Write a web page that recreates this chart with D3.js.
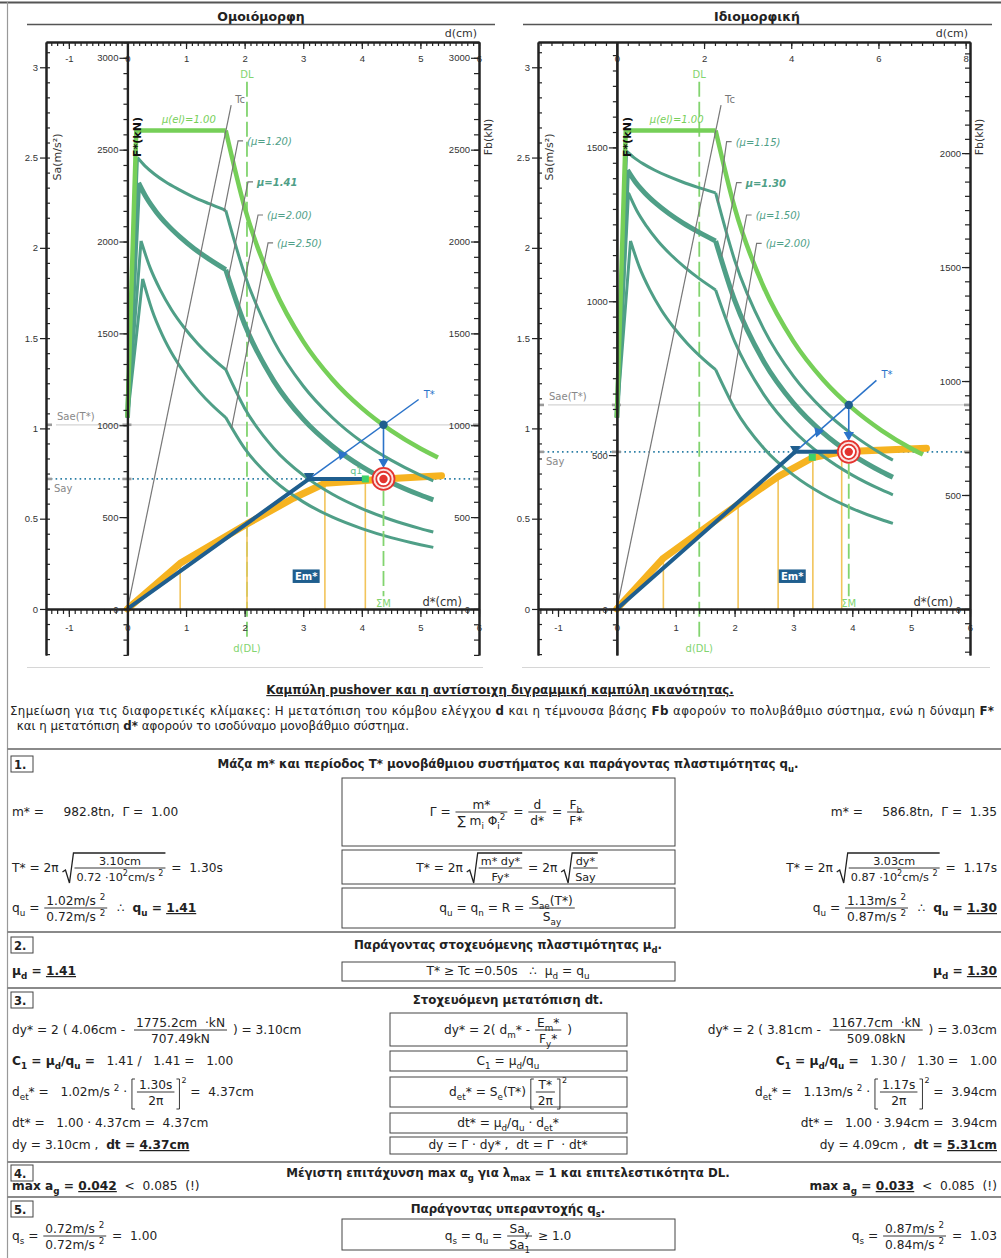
<!DOCTYPE html>
<html lang="el"><head><meta charset="utf-8"><title>Pushover – ικανότητα και απαίτηση</title>
<script src="https://cdn.jsdelivr.net/npm/d3@7/dist/d3.min.js"></script>
<style>
html,body{margin:0;padding:0;background:#fff}
svg{display:block;font-family:"DejaVu Sans",Verdana,sans-serif}
text{white-space:pre}
</style></head><body>
<svg id="sheet" width="1001" height="1258" viewBox="0 0 1001 1258"></svg>
<script>
// ----------------------------------------------------------------------------
// Data: spectra and capacity curves in ADRS form, x = d* (cm), y = Sa (m/s²)
// index 0 = Ομοιόμορφη (uniform load), index 1 = Ιδιομορφική (modal load)
// ----------------------------------------------------------------------------
const panelTitles = ['Ομοιόμορφη', 'Ιδιομορφική'];
const massStar  = [982.8, 586.8];    // m* (tn)
const gammaVals = [1.00, 1.35];      // Γ
const dyStar    = [3.10, 3.03];      // dy* (cm)
const saY       = [0.72, 0.87];      // Say (m/s²)
const periodT   = [1.30, 1.17];      // T* (s)
const saE       = [1.02, 1.13];      // Sae(T*) (m/s²)
const qU        = [1.41, 1.30];
const dmStar    = [4.06, 3.81];      // dm* (cm)
const emStar    = [1775.2, 1167.7];  // Em* (cm·kN)
const fyStar    = [707.49, 509.08];  // Fy* (kN)
const dtStar    = [4.37, 3.94];      // dt* (cm)
const dyMdof    = [3.10, 4.09];      // dy (cm)
const dtMdof    = [4.37, 5.31];      // dt (cm)
const agMax     = [0.042, 0.033];
const sa1       = [0.72, 0.84];
const sa1Disp   = [4.06, 3.32];      // d* where Sa1 is read on the capacity curve
const qS        = [1.00, 1.03];
const dDL       = [2.04, 1.40];      // d* at the DL limit
const tcPeriod  = 0.50;
const dCorner   = 1.678;             // d* of the spectrum corner at Tc

const saTicks         = [0, 0.5, 1, 1.5, 2, 2.5, 3];
const dStarTicks      = [-1, 0, 1, 2, 3, 4, 5, 6];
const uniTopTicks     = [-1, 0, 1, 2, 3, 4, 5, 6];
const modalTopTicks   = [0, 2, 4, 6, 8];
const uniForceTicks   = [0, 500, 1000, 1500, 2000, 2500, 3000];
const modalForceTicks = [0, 500, 1000, 1500];
const modalBaseTicks  = [0, 500, 1000, 1500, 2000];

// elastic demand spectrum μ(el)=1.00
const uniElastic = [[0,1.06],[0.151,2.65],[1.678,2.65],[2.0,2.224],[2.5,1.779],[3.0,1.482],[3.5,1.271],[4.0,1.112],[4.5,0.988],[5.0,0.889],[5.3,0.839]];
const modalElastic = [[0,1.06],[0.151,2.65],[1.678,2.65],[2.0,2.224],[2.5,1.779],[3.0,1.482],[3.5,1.271],[4.0,1.112],[4.5,0.988],[5.0,0.889],[5.2,0.855]];

// inelastic demand spectra, uniform panel
const uniMu120 = [[0,1.06],[0.171,2.500],[0.298,2.454],[0.458,2.409],[0.647,2.366],[0.865,2.325],[1.111,2.284],[1.382,2.246],[1.678,2.208],[2.0,1.853],[2.5,1.482],[3.0,1.235],[3.5,1.059],[4.0,0.926],[4.5,0.824],[5.0,0.741],[5.22,0.710]];
const uniMu141 = [[0,1.06],[0.190,2.360],[0.325,2.277],[0.491,2.199],[0.683,2.127],[0.901,2.059],[1.140,1.995],[1.400,1.936],[1.678,1.879],[2.0,1.577],[2.5,1.262],[3.0,1.051],[3.5,0.901],[4.0,0.788],[4.5,0.701],[5.0,0.631],[5.22,0.604]];
const uniMu200 = [[0,1.06],[0.232,2.038],[0.383,1.893],[0.560,1.767],[0.755,1.656],[0.967,1.559],[1.193,1.472],[1.431,1.395],[1.678,1.325],[2.0,1.112],[2.5,0.889],[3.0,0.741],[3.5,0.635],[4.0,0.556],[4.5,0.494],[5.0,0.445],[5.22,0.426]];
const uniMu250 = [[0,1.06],[0.260,1.828],[0.419,1.656],[0.600,1.514],[0.795,1.395],[1.002,1.293],[1.220,1.205],[1.446,1.128],[1.678,1.060],[2.0,0.889],[2.5,0.712],[3.0,0.593],[3.5,0.508],[4.0,0.445],[4.5,0.395],[5.0,0.356],[5.22,0.341]];

// inelastic demand spectra, modal panel
const modalMu115 = [[0,1.06],[0.166,2.536],[0.291,2.500],[0.449,2.465],[0.637,2.431],[0.855,2.398],[1.103,2.366],[1.377,2.335],[1.678,2.304],[2.0,1.933],[2.5,1.547],[3.0,1.289],[3.5,1.105],[4.0,0.967],[4.5,0.859],[4.69,0.824]];
const modalMu130 = [[0,1.06],[0.180,2.431],[0.311,2.366],[0.475,2.304],[0.665,2.246],[0.883,2.190],[1.126,2.137],[1.391,2.087],[1.678,2.038],[2.0,1.710],[2.5,1.368],[3.0,1.140],[3.5,0.977],[4.0,0.855],[4.5,0.760],[4.69,0.729]];
const modalMu150 = [[0,1.06],[0.197,2.304],[0.335,2.208],[0.504,2.120],[0.697,2.038],[0.913,1.963],[1.151,1.893],[1.406,1.828],[1.678,1.767],[2.0,1.482],[2.5,1.186],[3.0,0.988],[3.5,0.847],[4.0,0.741],[4.5,0.659],[4.69,0.632]];
const modalMu200 = [[0,1.06],[0.232,2.038],[0.383,1.893],[0.560,1.767],[0.755,1.656],[0.967,1.559],[1.193,1.472],[1.431,1.395],[1.678,1.325],[2.0,1.112],[2.5,0.889],[3.0,0.741],[3.5,0.635],[4.0,0.556],[4.5,0.494],[4.69,0.474]];

const uniMuLabels   = ['(μ=1.20)', 'μ=1.41', '(μ=2.00)', '(μ=2.50)'];
const modalMuLabels = ['(μ=1.15)', 'μ=1.30', '(μ=1.50)', '(μ=2.00)'];
// label leaders: from the curve to the label
const uniLeaders   = [[[1.65,2.20],[1.888,2.592]], [[1.72,1.833],[2.058,2.365]], [[1.69,1.324],[2.229,2.182]], [[1.776,1.00],[2.40,2.027]]];
const modalLeaders = [[[1.72,2.248],[1.865,2.588]], [[1.78,1.951],[2.035,2.361]], [[1.865,1.61],[2.205,2.182]], [[1.92,1.157],[2.375,2.025]]];
const elasticLabelAt = [[0.59,2.69],[0.56,2.69]];

// pushover capacity curves (orange) and the analysis steps marked on them
const uniPushover   = [[0,0],[0.90,0.253],[2.04,0.471],[2.83,0.613],[3.37,0.696],[4.06,0.712],[4.37,0.720],[5.36,0.738]];
const modalPushover = [[0,0],[0.79,0.281],[2.06,0.580],[2.74,0.733],[3.33,0.839],[3.82,0.870],[5.26,0.890]];
const uniSteps   = [[0.90,0.253],[2.04,0.471],[3.37,0.696],[4.06,0.712]];
const modalSteps = [[0.79,0.281],[2.06,0.580],[2.74,0.733],[3.33,0.839],[3.82,0.870]];

// T* radial line (drawn from the yield point outwards) and its arrow mark
const tStarEnd  = [[4.97,1.16],[4.41,1.266]];
const tStarMark = [[3.66,0.854],[3.42,0.981]];
const tcLine    = [[0,0],[1.77,2.79]];

// ----------------------------------------------------------------------------
const svg = d3.select('#sheet');
const INK = '#222';
const COL = {el:'#76cf58', inel:'#4f9f87', lead:'#777', dl:'#82d46f', orange:'#f6b320', step:'#f2c45a',
             bil:'#1f5e8e', tline:'#2b73c9', say:'#2c7fa6', sae:'#d4d4d4', red:'#e3342f', sq:'#3ed16a'};
const saDomain = [-0.255, 3.14];

const layout = [
  {px:[46,479], dLo:-1.39, titleX:261, rule:[27,495], sep:[27,483], topTicks:uniTopTicks, topMinor:0.1,
   fTicks:uniForceTicks, fMinor:1000/12, fbTicks:uniForceTicks, fbMinor:1000/12},
  {px:[538,970], dLo:-1.34, titleX:757, rule:[523,992], sep:[522,990], topTicks:modalTopTicks, topMinor:0.25,
   fTicks:modalForceTicks, fMinor:50, fbTicks:modalBaseTicks, fbMinor:62.5}
];
const elasticSeries   = [uniElastic, modalElastic];
const inelasticSeries = [[uniMu120, uniMu141, uniMu200, uniMu250], [modalMu115, modalMu130, modalMu150, modalMu200]];
const muLabelSeries   = [uniMuLabels, modalMuLabels];
const leaderSeries    = [uniLeaders, modalLeaders];
const pushoverSeries  = [uniPushover, modalPushover];
const stepSeries      = [uniSteps, modalSteps];

function tickRange(lo, hi, st) {
  const a = [];
  for (let k = Math.ceil(lo / st - 1e-9); k * st <= hi + 1e-9; k++) a.push(+(k * st).toFixed(6));
  return a;
}

function drawPanel(i) {
  const L = layout[i];
  const g = svg.append('g');
  const [X0, X1] = L.px;
  const G = gammaVals[i], M = massStar[i];
  const x    = d3.scaleLinear().domain([L.dLo, 6]).range(L.px);
  const y    = d3.scaleLinear().domain(saDomain).range([655, 42]);
  const xTop = d3.scaleLinear().domain([L.dLo * G, 6 * G]).range(L.px);
  const yF   = d3.scaleLinear().domain(saDomain.map(v => v * M)).range([655, 42]);
  const yFb  = d3.scaleLinear().domain(saDomain.map(v => v * M * G)).range([655, 42]);
  const XF = x(0);
  const line = d3.line().x(d => x(d[0])).y(d => y(d[1]));
  const smooth = d3.line().x(d => x(d[0])).y(d => y(d[1])).curve(d3.curveMonotoneX);

  // title
  g.append('text').attr('x', L.titleX).attr('y', 21).attr('text-anchor', 'middle')
    .style('font-size', '12.5px').style('font-weight', 'bold').attr('fill', INK).text(panelTitles[i]);
  g.append('line').attr('x1', L.rule[0]).attr('x2', L.rule[1]).attr('y1', 24.5).attr('y2', 24.5)
    .attr('stroke', '#555').attr('stroke-width', 1.5);
  g.append('line').attr('x1', L.sep[0]).attr('x2', L.sep[1]).attr('y1', 667.5).attr('y2', 667.5)
    .attr('stroke', '#d6d6d6').attr('stroke-width', 1.2);

  // Sae(T*) and Say reference levels
  g.append('line').attr('x1', X0 + 10).attr('x2', X1).attr('y1', y(saE[i])).attr('y2', y(saE[i]))
    .attr('stroke', COL.sae).attr('stroke-width', 1.3);
  g.append('line').attr('x1', X0).attr('x2', X1).attr('y1', y(saY[i])).attr('y2', y(saY[i]))
    .attr('stroke', COL.say).attr('stroke-width', 1.7).attr('stroke-dasharray', '1.6,3.2');
  [saE[i], saY[i]].forEach(v => {
    [[X0, X0 + 6], [XF - 5, XF + 4], [X1 - 6, X1]].forEach(([a, b]) =>
      g.append('line').attr('x1', a).attr('x2', b).attr('y1', y(v)).attr('y2', y(v))
        .attr('stroke', '#9a9a9a').attr('stroke-width', 2.6));
  });
  g.append('text').attr('x', X0 + 11).attr('y', y(saE[i]) - 5).style('font-size', '10px').attr('fill', '#888').text('Sae(T*)');
  g.append('text').attr('x', X0 + 8).attr('y', y(saY[i]) + 13).style('font-size', '10px').attr('fill', '#888').text('Say');

  // DL limit
  g.append('line').attr('x1', x(dDL[i])).attr('x2', x(dDL[i])).attr('y1', y(2.92)).attr('y2', y(-0.155))
    .attr('stroke', COL.dl).attr('stroke-width', 1.8).attr('stroke-dasharray', '15,5');
  g.append('text').attr('x', x(dDL[i])).attr('y', y(2.92) - 4).attr('text-anchor', 'middle')
    .style('font-size', '10px').attr('fill', COL.dl).text('DL');
  g.append('text').attr('x', x(dDL[i])).attr('y', y(-0.155) + 15).attr('text-anchor', 'middle')
    .style('font-size', '10px').attr('fill', COL.dl).text('d(DL)');

  // pushover steps and capacity curve
  stepSeries[i].forEach(p => g.append('line').attr('x1', x(p[0])).attr('x2', x(p[0])).attr('y1', y(0)).attr('y2', y(p[1]))
    .attr('stroke', COL.step).attr('stroke-width', 1.6));
  g.append('path').attr('d', line(pushoverSeries[i])).attr('fill', 'none').attr('stroke', COL.orange)
    .attr('stroke-width', 7).attr('stroke-linejoin', 'round').attr('stroke-linecap', 'round');

  // demand spectra: straight rise to the peak, then smooth branches split at the Tc corner
  function spectrumPath(pts) {
    const k = pts.findIndex(p => Math.abs(p[0] - dCorner) < 1e-6);
    return line(pts.slice(0, 2)) + smooth(pts.slice(1, k + 1)) + smooth(pts.slice(k));
  }
  inelasticSeries[i].forEach((pts, j) => {
    g.append('path').attr('d', spectrumPath(pts)).attr('fill', 'none').attr('stroke', COL.inel)
      .attr('stroke-width', j === 1 ? 5 : 3).attr('stroke-linejoin', 'round');
  });
  const el = elasticSeries[i];
  g.append('path').attr('d', line(el.slice(0, 3)) + smooth(el.slice(2))).attr('fill', 'none')
    .attr('stroke', COL.el).attr('stroke-width', 4.5).attr('stroke-linejoin', 'round');

  // Tc period line and leaders
  g.append('path').attr('d', line(tcLine)).attr('stroke', COL.lead).attr('stroke-width', 1.2).attr('fill', 'none');
  g.append('text').attr('x', x(tcLine[1][0]) + 4).attr('y', y(tcLine[1][1]) - 2).style('font-size', '10px')
    .attr('fill', '#777').text('Tc');
  leaderSeries[i].forEach((ld, j) => {
    const [a, b] = ld;
    g.append('path').attr('d', `M${x(a[0])},${y(a[1])}L${x(b[0])},${y(b[1])}h5`).attr('fill', 'none')
      .attr('stroke', COL.lead).attr('stroke-width', 1.2);
    g.append('text').attr('x', x(b[0]) + 9).attr('y', y(b[1]) + 4).style('font-size', '10px')
      .style('font-style', 'italic').style('font-weight', j === 1 ? 'bold' : 'normal')
      .attr('fill', COL.inel).text(muLabelSeries[i][j]);
  });
  g.append('text').attr('x', x(elasticLabelAt[i][0])).attr('y', y(elasticLabelAt[i][1])).style('font-size', '10px')
    .style('font-style', 'italic').attr('fill', COL.el).text('μ(el)=1.00');

  // bilinear idealisation
  const bilinear = [[0, 0], [dyStar[i], saY[i]], [dmStar[i], saY[i]]];
  g.append('path').attr('d', line(bilinear)).attr('fill', 'none').attr('stroke', COL.bil)
    .attr('stroke-width', 4).attr('stroke-linejoin', 'round');

  // T* line, demand point and arrows
  const yieldPt = [dyStar[i], saY[i]];
  g.append('path').attr('d', line([yieldPt, tStarEnd[i]])).attr('stroke', COL.tline).attr('stroke-width', 1.5).attr('fill', 'none');
  g.append('text').attr('x', x(tStarEnd[i][0]) + 5).attr('y', y(tStarEnd[i][1]) - 2).style('font-size', '10px')
    .attr('fill', COL.tline).text('T*');
  const tri = d3.symbol(d3.symbolTriangle, 46);
  g.append('path').attr('d', tri()).attr('transform', `translate(${x(tStarMark[i][0])},${y(tStarMark[i][1])}) rotate(200)`)
    .attr('fill', COL.tline);
  g.append('path').attr('d', tri()).attr('transform', `translate(${x(yieldPt[0])},${y(yieldPt[1]) - 3}) rotate(180)`)
    .attr('fill', COL.bil);
  const tx = x(dtStar[i]);
  g.append('line').attr('x1', tx).attr('x2', tx).attr('y1', y(saE[i])).attr('y2', y(saY[i]) - 17)
    .attr('stroke', COL.tline).attr('stroke-width', 1.6);
  g.append('path').attr('d', tri()).attr('transform', `translate(${tx},${y(saY[i]) - 17}) rotate(180)`).attr('fill', COL.tline);
  g.append('circle').attr('cx', tx).attr('cy', y(saE[i])).attr('r', 4.2).attr('fill', COL.bil);

  // target displacement ΣΜ
  g.append('line').attr('x1', tx).attr('x2', tx).attr('y1', y(saY[i]) + 12).attr('y2', y(0.07))
    .attr('stroke', COL.dl).attr('stroke-width', 1.8).attr('stroke-dasharray', '15,5');
  g.append('text').attr('x', tx).attr('y', y(0) - 2).attr('text-anchor', 'middle').style('font-size', '10px')
    .attr('fill', COL.dl).text('ΣΜ');
  g.append('rect').attr('x', x(sa1Disp[i]) - 3.5).attr('y', y(sa1[i]) - 3.5).attr('width', 7).attr('height', 7).attr('fill', COL.sq);
  if (i === 0) g.append('text').attr('x', x(sa1Disp[i]) - 15).attr('y', y(sa1[i]) - 5).style('font-size', '9.5px')
    .attr('fill', '#5cc28a').text('q1');
  const ty = y(saY[i]);
  g.append('circle').attr('cx', tx).attr('cy', ty).attr('r', 11).attr('fill', '#fbe0de').attr('stroke', COL.red).attr('stroke-width', 1.8);
  g.append('circle').attr('cx', tx).attr('cy', ty).attr('r', 7.2).attr('fill', '#fff').attr('stroke', COL.red).attr('stroke-width', 1.8);
  g.append('circle').attr('cx', tx).attr('cy', ty).attr('r', 4.2).attr('fill', COL.red);

  // Em* tag
  const ex = x(dyStar[i] - 0.05), ey = y(0.18);
  g.append('rect').attr('x', ex - 13.5).attr('y', ey - 7).attr('width', 27).attr('height', 13.5).attr('fill', COL.bil);
  g.append('text').attr('x', ex).attr('y', ey + 4).attr('text-anchor', 'middle').style('font-size', '10px')
    .style('font-weight', 'bold').attr('fill', '#fff').text('Em*');

  // axes
  const style = (sel, w) => {
    sel.selectAll('text').style('font-size', '9.5px').attr('fill', '#333');
    sel.selectAll('.tick line').attr('stroke', INK).attr('stroke-width', 1.2);
    sel.select('.domain').attr('stroke', INK).attr('stroke-width', w);
  };
  const fmt = d => String(d);
  // top: d (cm) of the MDOF system
  g.append('g').attr('transform', 'translate(0,42)')
    .call(d3.axisBottom(xTop).tickValues(tickRange(L.dLo * G, 6 * G, L.topMinor)).tickSize(4).tickSizeOuter(0).tickFormat(''))
    .call(s => style(s, 2));
  g.append('g').attr('transform', 'translate(0,42)')
    .call(d3.axisBottom(xTop).tickValues(L.topTicks).tickSize(7).tickPadding(6).tickSizeOuter(0).tickFormat(fmt))
    .call(s => style(s, 2));
  // bottom: d* (cm)
  g.append('g').attr('transform', `translate(0,${y(0)})`)
    .call(d3.axisBottom(x).tickValues(tickRange(L.dLo, 6, 0.1)).tickSize(5).tickSizeOuter(0).tickFormat(''))
    .call(s => style(s, 2));
  g.append('g').attr('transform', `translate(0,${y(0)})`)
    .call(d3.axisBottom(x).tickValues(dStarTicks).tickSize(8).tickPadding(7).tickSizeOuter(0).tickFormat(fmt))
    .call(s => style(s, 2));
  // Sa
  g.append('g').attr('transform', `translate(${X0},0)`)
    .call(d3.axisLeft(y).tickValues(tickRange(saDomain[0], saDomain[1], 1 / 12)).tickSize(-4).tickSizeOuter(0).tickFormat(''))
    .call(s => style(s, 2));
  g.append('g').attr('transform', `translate(${X0},0)`)
    .call(d3.axisLeft(y).tickValues(saTicks).tickSize(6).tickPadding(2).tickSizeOuter(0).tickFormat(fmt))
    .call(s => style(s, 2));
  // F* (SDOF)
  g.append('g').attr('transform', `translate(${XF},0)`)
    .call(d3.axisLeft(yF).tickValues(tickRange(yF.domain()[0], yF.domain()[1], L.fMinor)).tickSize(4).tickSizeOuter(0).tickFormat(''))
    .call(s => style(s, 2.2));
  g.append('g').attr('transform', `translate(${XF},0)`)
    .call(d3.axisLeft(yF).tickValues(L.fTicks).tickSize(8).tickPadding(1).tickSizeOuter(0).tickFormat(fmt))
    .call(s => style(s, 2.2));
  // Fb (MDOF)
  g.append('g').attr('transform', `translate(${X1},0)`)
    .call(d3.axisLeft(yFb).tickValues(tickRange(yFb.domain()[0], yFb.domain()[1], L.fbMinor)).tickSize(5).tickSizeOuter(0).tickFormat(''))
    .call(s => style(s, 2));
  g.append('g').attr('transform', `translate(${X1},0)`)
    .call(d3.axisLeft(yFb).tickValues(L.fbTicks).tickSize(8).tickPadding(1).tickSizeOuter(0).tickFormat(fmt))
    .call(s => style(s, 2));

  // axis titles
  const rot = (tx0, ty0, txt, bold) => g.append('text').attr('transform', `translate(${tx0},${ty0}) rotate(-90)`)
    .attr('text-anchor', 'middle').style('font-size', '11px').style('font-weight', bold ? 'bold' : 'normal')
    .attr('fill', bold ? '#111' : '#333').text(txt);
  rot(X0 + 15, 157, 'Sa(m/s²)', false);
  rot(XF + 14, 137, 'F*(kN)', true);
  rot(X1 + 13, 137, 'Fb(kN)', false);
  g.append('text').attr('x', X1 - 2).attr('y', 37).attr('text-anchor', 'end').style('font-size', '11px').attr('fill', '#333').text('d(cm)');
  g.append('text').attr('x', X1 - 17).attr('y', 606).attr('text-anchor', 'end').style('font-size', '11.5px').attr('fill', '#333').text('d*(cm)');
}

// ----------------------------------------------------------------------------
// text section helpers: _{..} subscript, ^{..} superscript, «..» bold, ‹..› bold underlined
// ----------------------------------------------------------------------------
const FS = 12.2;
function parse(str) {
  const out = []; let b = false, u = false, mode = null, buf = '';
  const flush = () => { if (buf) out.push({t: buf, b, u, sub: mode === 'sub', sup: mode === 'sup'}); buf = ''; };
  for (let k = 0; k < str.length; k++) {
    const c = str[k];
    if ((c === '_' || c === '^') && str[k + 1] === '{') { flush(); mode = c === '_' ? 'sub' : 'sup'; k++; continue; }
    if (c === '}' && mode) { flush(); mode = null; continue; }
    if (c === '«') { flush(); b = true; continue; }
    if (c === '»') { flush(); b = false; continue; }
    if (c === '‹') { flush(); b = true; u = true; continue; }
    if (c === '›') { flush(); b = false; u = false; continue; }
    buf += c;
  }
  flush();
  return out;
}
function runEl(g, str, x, y, size) {
  const t = g.append('text').attr('x', x).attr('y', y).style('font-size', size + 'px').attr('fill', INK);
  let shift = 0;
  parse(str).forEach(s => {
    const ts = t.append('tspan').text(s.t);
    const want = s.sub ? size * 0.3 : s.sup ? -size * 0.42 : 0;
    if (want !== shift) { ts.attr('dy', want - shift); shift = want; }
    if (s.sub || s.sup) ts.style('font-size', (size * 0.72) + 'px');
    if (s.b) ts.style('font-weight', 'bold');
    if (s.u) ts.style('text-decoration', 'underline');
  });
  return t;
}
// items: strings, {f:[num,den]} fraction, {r:[num,den]} root of fraction, {k:[num,den]} bracketed fraction squared
function formula(x, y, items, anchor = 'start', size = FS) {
  const grp = svg.append('g');
  let cx = 0;
  items.forEach(it => {
    if (typeof it === 'string') {
      const t = runEl(grp, it, cx, 0, size);
      cx += t.node().getComputedTextLength();
      return;
    }
    const kind = it.f ? 'f' : it.r ? 'r' : 'k';
    const [n, d] = it[kind];
    const fsz = kind === 'r' ? size * 0.92 : size;
    const x0 = cx + (kind === 'r' ? 12 : kind === 'k' ? 6 : 1);
    const tn = runEl(grp, n, 0, -7, fsz), td = runEl(grp, d, 0, 9, fsz);
    const wn = tn.node().getComputedTextLength(), wd = td.node().getComputedTextLength();
    const w = Math.max(wn, wd) + 4;
    tn.attr('x', x0 + (w - wn) / 2); td.attr('x', x0 + (w - wd) / 2);
    grp.append('line').attr('x1', x0).attr('x2', x0 + w).attr('y1', -4).attr('y2', -4).attr('stroke', INK).attr('stroke-width', 0.9);
    if (kind === 'r') {
      grp.append('path').attr('d', `M${x0 - 12},0 l3,-2 l4,13 l4,-30 H${x0 + w}`).attr('fill', 'none')
        .attr('stroke', INK).attr('stroke-width', 1.3);
    }
    if (kind === 'k') {
      grp.append('path').attr('d', `M${x0 - 2},-17 h-3 v30 h3 M${x0 + w + 2},-17 h3 v30 h-3`).attr('fill', 'none')
        .attr('stroke', INK).attr('stroke-width', 0.9);
      runEl(grp, '2', x0 + w + 7, -13, size * 0.65);
    }
    cx = x0 + w + (kind === 'k' ? 12 : 2);
  });
  const dx = anchor === 'end' ? x - cx : anchor === 'middle' ? x - cx / 2 : x;
  grp.attr('transform', `translate(${dx},${y})`);
  return grp;
}
function frame(x, y, w, h) {
  svg.append('rect').attr('x', x).attr('y', y).attr('width', w).attr('height', h)
    .attr('fill', 'none').attr('stroke', '#444').attr('stroke-width', 1);
}
function section(num, yRule, yBox, header) {
  svg.append('line').attr('x1', 7).attr('x2', 1001).attr('y1', yRule).attr('y2', yRule).attr('stroke', '#8a8a8a').attr('stroke-width', 1.8);
  frame(11, yBox, 22, 16);
  formula(14, yBox + 12.5, ['«' + num + '»'], 'start', 11.5);
  formula(508, yBox + 12, ['«' + header + '»'], 'middle', 11.8);
}

// ----------------------------------------------------------------------------
// page frame
svg.append('line').attr('x1', 0).attr('x2', 1001).attr('y1', 2.5).attr('y2', 2.5).attr('stroke', '#555').attr('stroke-width', 2.2);
svg.append('line').attr('x1', 7.5).attr('x2', 7.5).attr('y1', 2).attr('y2', 1258).attr('stroke', '#999').attr('stroke-width', 1.2);

drawPanel(0);
drawPanel(1);

// caption and note
const f2 = v => v.toFixed(2);
formula(500, 694, ['‹Καμπύλη pushover και η αντίστοιχη διγραμμική καμπύλη ικανότητας.›'], 'middle', 11.8);
const note = formula(10, 715, ['Σημείωση για τις διαφορετικές κλίμακες: Η μετατόπιση του κόμβου ελέγχου «d» και η τέμνουσα βάσης «Fb» αφορούν το πολυβάθμιο σύστημα, ενώ η δύναμη «F*»'], 'start', 11.8);
note.select('text').attr('textLength', 984).attr('lengthAdjust', 'spacing');
formula(13, 730, [' και η μετατόπιση «d*» αφορούν το ισοδύναμο μονοβάθμιο σύστημα.'], 'start', 11.8);

// 1. SDOF mass, period, ductility factor
section('1.', 749, 756, 'Μάζα m* και περίοδος T* μονοβάθμιου συστήματος και παράγοντας πλαστιμότητας q_{u}.');
frame(342, 778, 333, 68);
frame(342, 850, 333, 34);
frame(342, 888, 333, 40);
formula(508, 816, ['Γ = ', {f: ['m*', '∑ m_{i} Φ_{i}^{2}']}, ' = ', {f: ['d', 'd*']}, ' = ', {f: ['F_{b}', 'F*']}], 'middle');
formula(508, 872, ['T* = 2π ', {r: ['m* dy*', 'Fy*']}, ' = 2π ', {r: ['dy*', 'Say']}], 'middle');
formula(508, 912, ['q_{u} = q_{n} = R = ', {f: ['S_{ae}(T*)', 'S_{ay}']}], 'middle');
[0, 1].forEach(i => {
  const X = i ? 997 : 12, A = i ? 'end' : 'start';
  formula(X, 816, [`m* =     ${massStar[i].toFixed(1)}tn,  Γ =  ${f2(gammaVals[i])}`], A);
  formula(X, 872, ['T* = 2π ', {r: [`${f2(dyStar[i])}cm`, `${f2(saY[i])} ·10^{2}cm/s ^{2}`]}, ` =  ${f2(periodT[i])}s`], A);
  formula(X, 912, ['q_{u} = ', {f: [`${f2(saE[i])}m/s ^{2}`, `${f2(saY[i])}m/s ^{2}`]}, `  ∴  «q_{u} = »‹${f2(qU[i])}›`], A);
});

// 2. target ductility
section('2.', 932, 937, 'Παράγοντας στοχευόμενης πλαστιμότητας μ_{d}.');
frame(342, 962, 333, 19);
formula(508, 975, [`T* ≥ Tc =${f2(tcPeriod)}s   ∴  μ_{d} = q_{u}`], 'middle');
[0, 1].forEach(i => formula(i ? 997 : 12, 975, [`«μ_{d} = »‹${f2(qU[i])}›`], i ? 'end' : 'start'));

// 3. target displacement
section('3.', 988, 992, 'Στοχευόμενη μετατόπιση dt.');
frame(390, 1013, 237, 33);
frame(390, 1051, 237, 20);
frame(390, 1077, 237, 30);
frame(390, 1113, 237, 20);
frame(390, 1137, 237, 17);
formula(508, 1034, ['dy* = 2( d_{m}* - ', {f: ['E_{m}*', 'F_{y}*']}, ' )'], 'middle');
formula(508, 1065, ['C_{1} = μ_{d}/q_{u}'], 'middle');
formula(508, 1096, ['d_{et}* = S_{e}(T*) ', {k: ['T*', '2π']}], 'middle');
formula(508, 1127, ['dt* = μ_{d}/q_{u} · d_{et}*'], 'middle');
formula(508, 1149, ['dy = Γ · dy* ,  dt = Γ  · dt*'], 'middle');
[0, 1].forEach(i => {
  const X = i ? 997 : 12, A = i ? 'end' : 'start';
  formula(X, 1034, [`dy* = 2 ( ${f2(dmStar[i])}cm -  `, {f: [`${emStar[i].toFixed(1)}cm  ·kN`, `${fyStar[i].toFixed(2)}kN`]}, ` ) = ${f2(dyStar[i])}cm`], A);
  formula(X, 1065, [`«C_{1} = μ_{d}/q_{u} =»   ${f2(qU[i])} /   ${f2(qU[i])} =   1.00`], A);
  formula(X, 1096, [`d_{et}* =   ${f2(saE[i])}m/s ^{2} · `, {k: [`${f2(periodT[i])}s`, '2π']}, ` =  ${f2(dtStar[i])}cm`], A);
  formula(X, 1127, [`dt* =   1.00 · ${f2(dtStar[i])}cm =  ${f2(dtStar[i])}cm`], A);
  formula(X, 1149, [`dy = ${f2(dyMdof[i])}cm ,  «dt = »‹${f2(dtMdof[i])}cm›`], A);
});

// 4. maximum ground acceleration for DL
section('4.', 1162, 1165, 'Μέγιστη επιτάχυνση max α_{g} για λ_{max} = 1 και επιτελεστικότητα DL.');
[0, 1].forEach(i => formula(i ? 997 : 12, 1190, [`«max a_{g} = »‹${agMax[i].toFixed(3)}›  <  0.085  (!)`], i ? 'end' : 'start'));

// 5. overstrength
section('5.', 1197, 1201, 'Παράγοντας υπεραντοχής q_{s}.');
frame(342, 1219, 333, 31);
formula(508, 1240, ['q_{s} = q_{u} = ', {f: ['Sa_{y}', 'Sa_{1}']}, ' ≥ 1.0'], 'middle');
[0, 1].forEach(i => formula(i ? 997 : 12, 1240, ['q_{s} = ', {f: [`${f2(saY[i])}m/s ^{2}`, `${f2(sa1[i])}m/s ^{2}`]}, ` =  ${f2(qS[i])}`], i ? 'end' : 'start'));
</script></body></html>
